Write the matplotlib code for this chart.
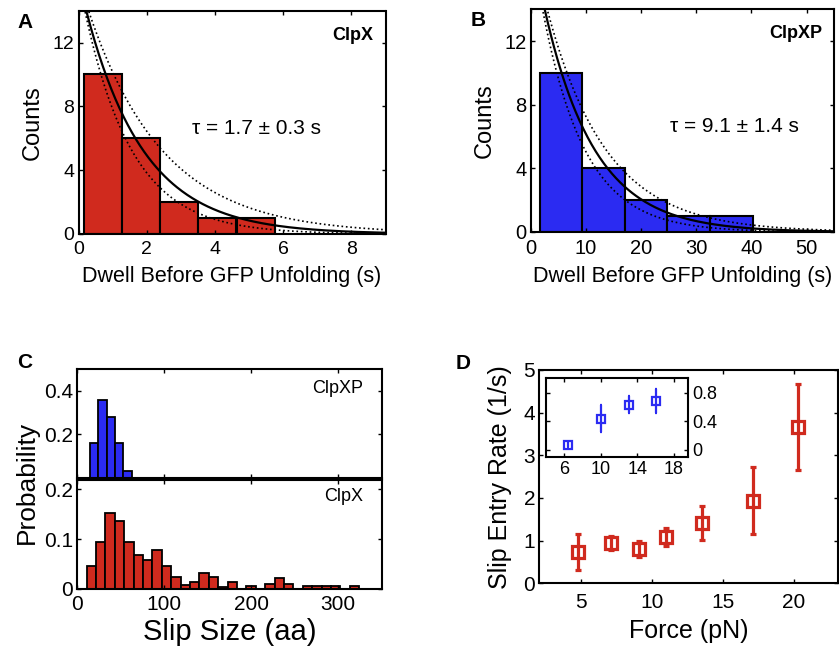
import numpy as np
import matplotlib
matplotlib.use('Agg')
from matplotlib import pyplot as plt

plt.rcParams['font.family'] = ['Liberation Sans', 'DejaVu Sans']

# panel A: ClpX dwell histogram
a_centers = [0.73, 1.84, 2.96, 4.07, 5.19]
a_counts = [10, 6, 2, 1, 1]
a_width = 1.115
a_tau = 1.7
a_tau_lo, a_tau_hi = 1.4, 2.2
a_amp = 16.0

# panel B: ClpXP dwell histogram
b_centers = [5.47, 13.2, 20.9, 28.6, 36.4]
b_counts = [10, 4, 2, 1, 1]
b_width = 7.73
b_tau = 9.1
b_tau_lo, b_tau_hi = 7.7, 10.7
b_amp = 18.5

# panel C: slip size distributions
c_top_centers = [19.4, 29.0, 38.6, 48.2, 57.8]
c_top_prob = [0.16, 0.36, 0.28, 0.16, 0.03]
c_top_width = 9.6
c_bot_centers = [16.2, 27.0, 37.8, 48.6, 59.4, 70.2, 81.0, 91.8, 102.6, 113.4,
                 124.2, 135.0, 145.8, 156.6, 167.4, 178.2, 189.0, 199.8, 210.6, 221.4,
                 232.2, 243.0, 253.8, 264.6, 275.4, 286.2, 297.0, 307.8, 318.6]
c_bot_prob = [0.047, 0.095, 0.153, 0.137, 0.095, 0.068, 0.059, 0.078, 0.046, 0.025,
              0.009, 0.014, 0.032, 0.025, 0.005, 0.015, 0.0, 0.006, 0.0, 0.010,
              0.022, 0.011, 0.0, 0.006, 0.006, 0.006, 0.006, 0.0, 0.006]
c_bot_width = 10.8

# panel D: slip entry rate vs force
d_force = [4.8, 7.15, 9.12, 10.98, 13.52, 17.15, 20.25]
d_rate = [0.74, 0.94, 0.80, 1.09, 1.41, 1.94, 3.67]
d_err = [0.42, 0.16, 0.19, 0.21, 0.40, 0.78, 1.01]
ins_force = [6.44, 10.07, 13.1, 16.0]
ins_rate = [0.07, 0.435, 0.63, 0.68]
ins_err = [0.03, 0.19, 0.115, 0.165]

red = '#d02a1e'
blue = '#2b2bf2'

W, H = 839, 646
fig = plt.figure(figsize=(W / 100, H / 100), dpi=100)


def box(x0, y0, x1, y1):
    # pixel box (top-left origin) -> figure fraction axes
    return fig.add_axes([x0 / W, 1 - y1 / H, (x1 - x0) / W, (y1 - y0) / H])


def style(ax, size, pad=3):
    for s in ax.spines.values():
        s.set_linewidth(1.5)
    ax.tick_params(direction='in', top=True, right=True, length=3, width=1,
                   labelsize=size, pad=pad)


def letter(x, y, s):
    fig.text(x / W, 1 - y / H, s, fontsize=15, fontweight='bold', ha='center', va='center')


# ---- A ----
ax = box(78.5, 10.7, 385.5, 234)
ax.bar(a_centers, a_counts, width=a_width, color=red, edgecolor='k', linewidth=1.5)
t = np.linspace(0, 9, 300)
ax.plot(t, a_amp * np.exp(-t / a_tau), 'k-', lw=1.6)
ax.plot(t, a_amp * np.exp(-t / a_tau_lo), 'k:', lw=1.2)
ax.plot(t, a_amp * np.exp(-t / a_tau_hi), 'k:', lw=1.2)
ax.set_xlim(0, 9)
ax.set_ylim(0, 14)
ax.set_xticks([0, 2, 4, 6, 8])
ax.set_yticks([0, 4, 8, 12])
style(ax, 14)
ax.tick_params(axis='x', pad=5)
ax.set_xlabel('Dwell Before GFP Unfolding (s)', fontsize=15.5, labelpad=6)
ax.set_ylabel('Counts', fontsize=17, labelpad=6)
ax.text(0.96, 0.87, 'ClpX', transform=ax.transAxes, ha='right', fontsize=13, fontweight='bold')
ax.text(0.58, 0.45, '\u03c4 = 1.7 \u00b1 0.3 s', transform=ax.transAxes, ha='center', fontsize=15)
letter(25, 22, 'A')

# ---- B ----
ax = box(530.7, 9.3, 834.3, 232)
ax.bar(b_centers, b_counts, width=b_width, color=blue, edgecolor='k', linewidth=1.5)
t = np.linspace(0, 55, 300)
ax.plot(t, b_amp * np.exp(-t / b_tau), 'k-', lw=1.6)
ax.plot(t, b_amp * np.exp(-t / b_tau_lo), 'k:', lw=1.2)
ax.plot(t, b_amp * np.exp(-t / b_tau_hi), 'k:', lw=1.2)
ax.set_xlim(0, 55)
ax.set_ylim(0, 14)
ax.set_xticks([0, 10, 20, 30, 40, 50])
ax.set_yticks([0, 4, 8, 12])
style(ax, 14.5)
ax.tick_params(axis='x', pad=5)
ax.set_xlabel('Dwell Before GFP Unfolding (s)', fontsize=15.5, labelpad=6)
ax.set_ylabel('Counts', fontsize=17, labelpad=6)
ax.text(0.96, 0.87, 'ClpXP', transform=ax.transAxes, ha='right', fontsize=13, fontweight='bold')
ax.text(0.67, 0.45, '\u03c4 = 9.1 \u00b1 1.4 s', transform=ax.transAxes, ha='center', fontsize=15)
letter(478, 21, 'B')

# ---- C ----
axt = box(77.3, 369, 381.7, 478)
axt.bar(c_top_centers, c_top_prob, width=c_top_width, color=blue, edgecolor='k', linewidth=1.3)
axt.set_xlim(0, 350)
axt.set_ylim(0, 0.5)
axt.set_yticks([0.2, 0.4])
axt.set_yticklabels(['0.2', '0.4'])
axt.set_xticks([0, 100, 200, 300])
style(axt, 15)
axt.tick_params(labelbottom=False)
axt.text(0.94, 0.78, 'ClpXP', transform=axt.transAxes, ha='right', fontsize=13)

axb = box(77.3, 479.5, 381.7, 589)
axb.bar(c_bot_centers, c_bot_prob, width=c_bot_width, color=red, edgecolor='k', linewidth=1.3)
axb.set_xlim(0, 350)
axb.set_ylim(0, 0.22)
axb.set_yticks([0, 0.1, 0.2])
axb.set_yticklabels(['0', '0.1', '0.2'])
axb.set_xticks([0, 100, 200, 300])
style(axb, 15)
axb.tick_params(axis='x', pad=4)
axb.set_xlabel('Slip Size (aa)', fontsize=21, labelpad=3)
fig.text(27 / W, 1 - 482 / H, 'Probability', rotation=90, fontsize=19, ha='center', va='center')
axb.text(0.94, 0.8, 'ClpX', transform=axb.transAxes, ha='right', fontsize=13)
letter(25, 362, 'C')

# ---- D ----
ax = box(539.3, 370, 838, 583.3)
ax.errorbar(d_force, d_rate, yerr=d_err, fmt='s', color=red, mfc='none', mec=red,
            ms=8, mew=2.3, elinewidth=2.3, capsize=2, capthick=2)
ax.set_xlim(2.08, 23.1)
ax.set_ylim(0, 5)
ax.set_xticks([5, 10, 15, 20])
ax.set_yticks([0, 1, 2, 3, 4, 5])
style(ax, 15)
ax.tick_params(axis='x', pad=7)
ax.set_xlabel('Force (pN)', fontsize=18, labelpad=5)
ax.set_ylabel('Slip Entry Rate (1/s)', fontsize=18, labelpad=8)
letter(463, 363, 'D')

ins = box(546, 378.3, 687.7, 456.7)
ins.errorbar(ins_force, ins_rate, yerr=ins_err, fmt='s', color=blue, mfc='none', mec=blue,
             ms=6, mew=1.6, elinewidth=1.6, capsize=1)
ins.set_xlim(4, 19.5)
ins.set_ylim(-0.1, 1.0)
ins.set_xticks([6, 10, 14, 18])
ins.set_yticks([0, 0.4, 0.8])
ins.set_yticklabels(['0', '0.4', '0.8'])
style(ins, 13)
ins.tick_params(labelleft=False, labelright=True)

fig.savefig('out.png', dpi=100)
